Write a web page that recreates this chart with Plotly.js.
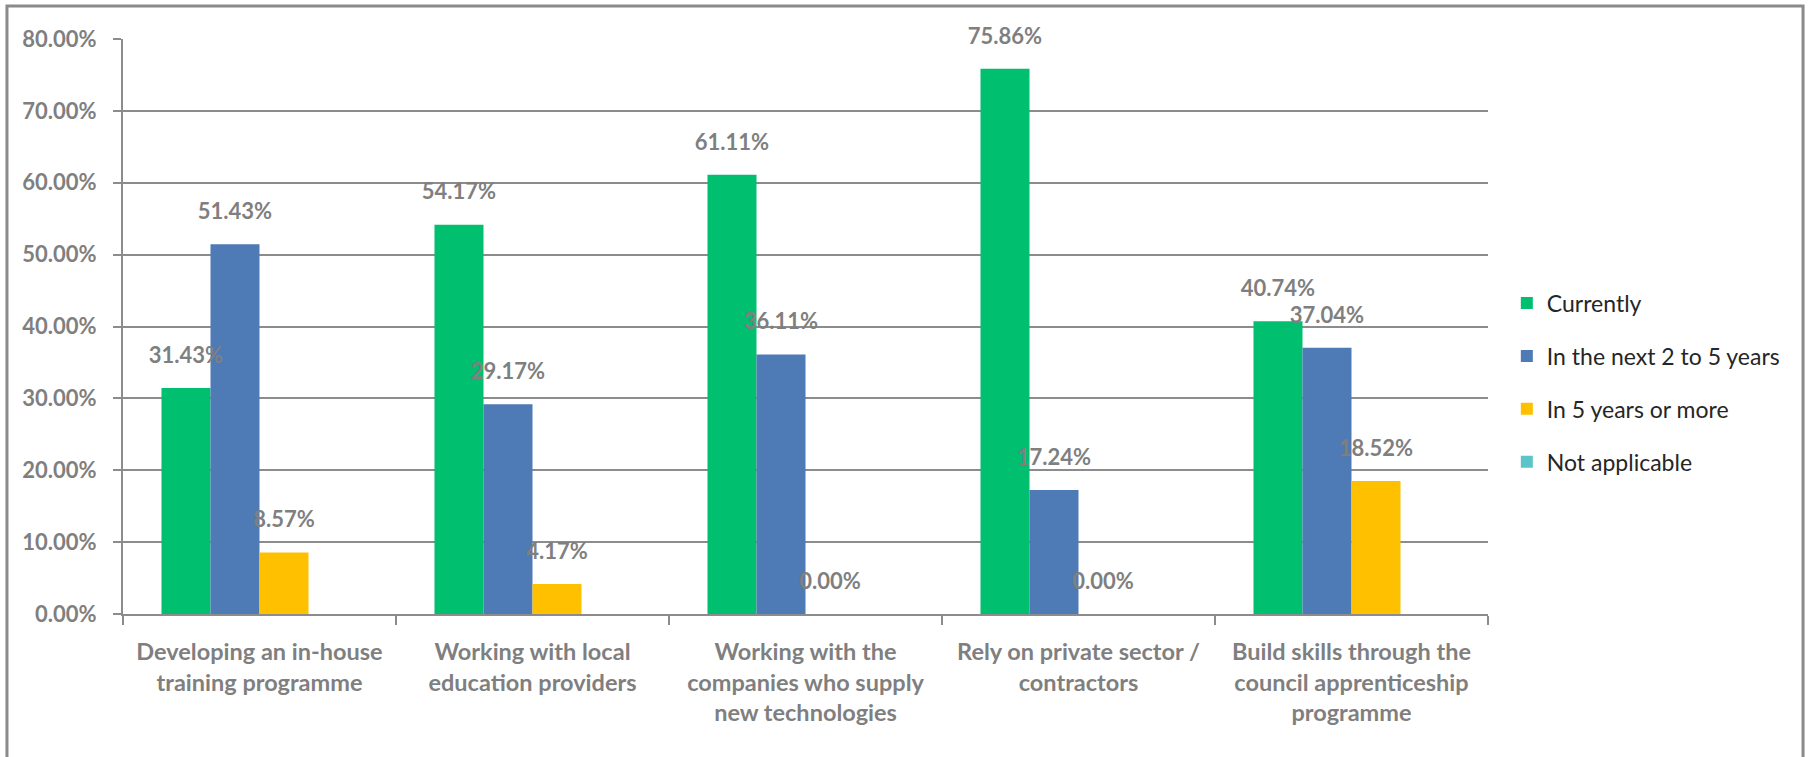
<!DOCTYPE html>
<html>
<head>
<meta charset="utf-8">
<script src="https://cdn.plot.ly/plotly-3.0.1.min.js"></script>
<style>
html,body{margin:0;padding:0;background:#fff;}
#chart{width:1810px;height:757px;}
</style>
</head>
<body>
<div id="chart"></div>
<script>
const categories = [
  "Developing an in-house<br>training programme",
  "Working with local<br>education providers",
  "Working with the<br>companies who supply<br>new technologies",
  "Rely on private sector /<br>contractors",
  "Build skills through the<br>council apprenticeship<br>programme"
];
const seriesNames = ["Currently", "In the next 2 to 5 years", "In 5 years or more", "Not applicable"];
const currently = [0.3143, 0.5417, 0.6111, 0.7586, 0.4074];
const next2to5 = [0.5143, 0.2917, 0.3611, 0.1724, 0.3704];
const fivePlus = [0.0857, 0.0417, 0.0000, 0.0000, 0.1852];
const notApplicable = [null, null, null, null, null];
const seriesColors = ["#00BF6F", "#4E7AB5", "#FFC000", "#5BC4C9"];
const yTickVals = [0, 0.1, 0.2, 0.3, 0.4, 0.5, 0.6, 0.7, 0.8];

const allSeries = [currently, next2to5, fivePlus, notApplicable];
const labelGray = "#7F7F7F";
const fontFam = "Lato, 'Open Sans', sans-serif";

const traces = [];
allSeries.forEach((vals, k) => {
  traces.push({
    type: "bar",
    name: seriesNames[k],
    x: categories,
    y: vals,
    marker: {color: seriesColors[k]},
    offsetgroup: "g" + k,
    alignmentgroup: "a",
    legendgroup: "l" + k,
    hoverinfo: "skip"
  });
});
allSeries.forEach((vals, k) => {
  traces.push({
    type: "scatter",
    mode: "markers+text",
    x: categories,
    y: vals,
    text: vals.map(v => v === null ? "" : (v * 100).toFixed(2) + "%"),
    textposition: "top center",
    textfont: {family: fontFam, size: 22, color: labelGray, weight: "bold"},
    marker: {size: 30, color: "rgba(0,0,0,0)"},
    offsetgroup: "g" + k,
    alignmentgroup: "a",
    showlegend: false,
    hoverinfo: "skip",
    cliponaxis: false
  });
});

const layout = {
  width: 1810,
  height: 757,
  margin: {l: 123, r: 322, t: 39, b: 143},
  paper_bgcolor: "#ffffff",
  plot_bgcolor: "#ffffff",
  barmode: "group",
  bargap: 0.282,
  bargroupgap: 0,
  scattermode: "group",
  scattergap: 0.282,
  font: {family: fontFam, color: labelGray},
  xaxis: {
    type: "category",
    showline: true,
    linecolor: "#8C8C8C",
    linewidth: 2,
    ticks: "outside",
    tickson: "boundaries",
    ticklen: 9,
    tickwidth: 2,
    tickcolor: "#8C8C8C",
    showgrid: false,
    tickfont: {family: fontFam, size: 23.5, color: labelGray, weight: "bold"},
    ticklabelstandoff: 16,
    fixedrange: true
  },
  yaxis: {
    range: [0, 0.8],
    tickvals: yTickVals,
    tickformat: ".2%",
    showline: true,
    linecolor: "#8C8C8C",
    linewidth: 2,
    ticks: "outside",
    ticklen: 8,
    tickwidth: 2,
    tickcolor: "#8C8C8C",
    showgrid: true,
    gridcolor: "#8C8C8C",
    gridwidth: 2,
    zeroline: false,
    tickfont: {family: fontFam, size: 22, color: labelGray, weight: "bold"},
    ticklabelstandoff: 12,
    fixedrange: true
  },
  legend: {
    xref: "container",
    yref: "container",
    x: 0.8325,
    y: 0.628,
    xanchor: "left",
    yanchor: "top",
    traceorder: "grouped",
    tracegroupgap: 20,
    itemwidth: 30,
    font: {family: fontFam, size: 23, color: "#262626"},
    bgcolor: "rgba(0,0,0,0)"
  },
  shapes: [{
    type: "rect",
    xref: "paper", yref: "paper",
    x0: -0.085, x1: 1.2308,
    y0: -0.27, y1: 1.0574,
    line: {color: "#8A8A8A", width: 3},
    layer: "below"
  }],
  showlegend: true
};

Plotly.newPlot("chart", traces, layout, {displayModeBar: false, staticPlot: true});
</script>
</body>
</html>
